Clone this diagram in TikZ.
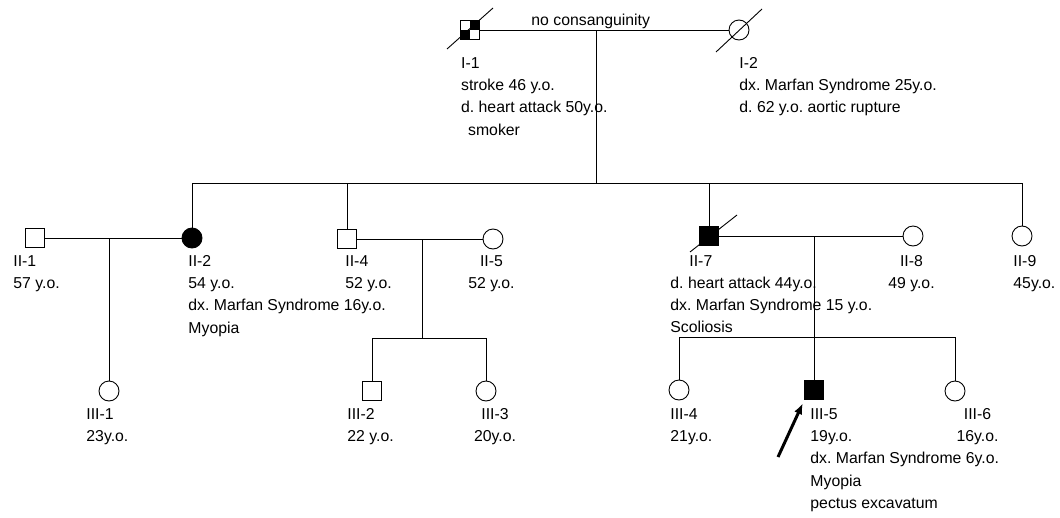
\documentclass[tikz,border=0pt]{standalone}
\usepackage{fontspec}
\setmainfont{Liberation Sans}
\usetikzlibrary{calc,arrows.meta}
\begin{document}
\frenchspacing
\begin{tikzpicture}[x=1pt,y=-1pt, line width=0.9pt,
  sq/.style={draw, rectangle, minimum size=19pt, inner sep=0pt, outer sep=0pt},
  ci/.style={draw, circle, minimum size=20pt, inner sep=0pt, outer sep=0pt},
  aff/.style={fill=black},
  lbl/.style={anchor=base west, inner sep=0pt, align=left, font=\fontsize{15.8}{22.4}\selectfont},
  clbl/.style={anchor=base, inner sep=0pt, align=center, font=\fontsize{15.8}{22.4}\selectfont},
  conn/.style={draw, line width=0.9pt},
  slash/.style={draw, line width=0.9pt},
  proband/.style={draw, line width=3pt, shorten >=4pt, -{Latex[length=11pt,width=8.5pt]}}]
\useasboundingbox (0,0) rectangle (1060,517);

% ---------- Generation I ----------
\node[sq] (I1) at (470,30) {};
\fill (I1.north) rectangle (I1.east);
\fill (I1.west) rectangle (I1.south);
\node[ci] (I2) at (739,30) {};
\path[slash] ($(I1)+(-23,19)$) -- ($(I1)+(23,-22)$);
\path[slash] ($(I2)+(-23,22)$) -- ($(I2)+(23,-21)$);
\path[conn] (I1.east) -- (I2.west);
\coordinate (mI) at (596,30);
\coordinate (sII) at (596,183);
\path[conn] (mI) -- (sII);

% (multi-line labels are placed by the baseline of their last line)
\node[lbl] (tnc) at (531,25) {no consanguinity};
\node[lbl] (tI1) at (460.7,135.2) {I-1\\stroke 46 y.o.\\d. heart attack 50y.o.\\\hspace*{7pt}smoker};
\node[lbl] (tI2) at (739,112.8) {I-2\\dx. Marfan Syndrome 25y.o.\\d. 62 y.o. aortic rupture};

% ---------- Generation II ----------
\node[sq] (II1) at (35,238) {};
\node[ci, aff] (II2) at (192,238) {};
\node[sq] (II4) at (347,239) {};
\node[ci] (II5) at (493,239) {};
\node[sq, aff] (II7) at (709,236) {};
\node[ci] (II8) at (913,236) {};
\node[ci] (II9) at (1022,236) {};
\path[slash] ($(II7)+(-19,16)$) -- ($(II7)+(28,-21)$);

% sibship line of generation II
\path[conn] (II2 |- sII) -- (II9 |- sII);
\path[conn] (II2.north) -- (II2 |- sII);
\path[conn] (II4.north) -- (II4 |- sII);
\path[conn] (II7.north) -- (II7 |- sII);
\path[conn] (II9.north) -- (II9 |- sII);

% marriages
\path[conn] (II1.east) -- (II2.west);
\path[conn] (II4.east) -- (II5.west);
\path[conn] (II7.east) -- (II8.west);

\node[lbl] (tII1) at (13,288.4) {II-1\\57 y.o.};
\node[lbl] (tII2) at (188,333.2) {II-2\\54 y.o.\\dx. Marfan Syndrome 16y.o.\\Myopia};
\node[lbl] (tII4) at (345,288.4) {II-4\\52 y.o.};
\node[clbl] (tII5) at (491.5,288.4) {II-5\\52 y.o.};
\node[lbl] (tII7) at (689,266) {II-7};
\node[lbl] (tII7b) at (670,332.8) {d. heart attack 44y.o.\\dx. Marfan Syndrome 15 y.o.\\Scoliosis};
\node[clbl] (tII8) at (911.5,288.4) {II-8\\49 y.o.};
\node[lbl] (tII9) at (1013,288.4) {II-9\\45y.o.};

% ---------- Generation III ----------
\node[ci] (III1) at (109,391) {};
\node[sq] (III2) at (372,391) {};
\node[ci] (III3) at (486,391) {};
\node[ci] (III4) at (679,390) {};
\node[sq, aff] (III5) at (814,390) {};
\node[ci] (III6) at (955,391) {};

% children of II-1 x II-2
\coordinate (m12) at (109,238);
\path[conn] (m12) -- (III1.north);

% children of II-4 x II-5
\coordinate (m45) at (422,239);
\coordinate (s45) at (422,338);
\path[conn] (m45) -- (s45);
\path[conn] (III2 |- s45) -- (III3 |- s45);
\path[conn] (III2 |- s45) -- (III2.north);
\path[conn] (III3 |- s45) -- (III3.north);

% children of II-7 x II-8
\coordinate (m78) at (814,236);
\coordinate (s78) at (814,337);
\path[conn] (m78) -- (III5.north);
\path[conn] (III4 |- s78) -- (III6 |- s78);
\path[conn] (III4 |- s78) -- (III4.north);
\path[conn] (III6 |- s78) -- (III6.north);

% proband arrow
\coordinate (arrS) at (778,457);
\path[proband] (arrS) -- (III5.south west);

\node[lbl] (tIII1) at (86,441.4) {III-1\\23y.o.};
\node[lbl] (tIII2) at (347,441.4) {III-2\\22 y.o.};
\node[clbl] (tIII3) at (495,441.4) {III-3\\20y.o.};
\node[lbl] (tIII4) at (670,441.4) {III-4\\21y.o.};
\node[lbl] (tIII5) at (810,508.6) {III-5\\19y.o.\\dx. Marfan Syndrome 6y.o.\\Myopia\\pectus excavatum};
\node[clbl] (tIII6) at (977.5,441.4) {III-6\\16y.o.};
\end{tikzpicture}
\end{document}
